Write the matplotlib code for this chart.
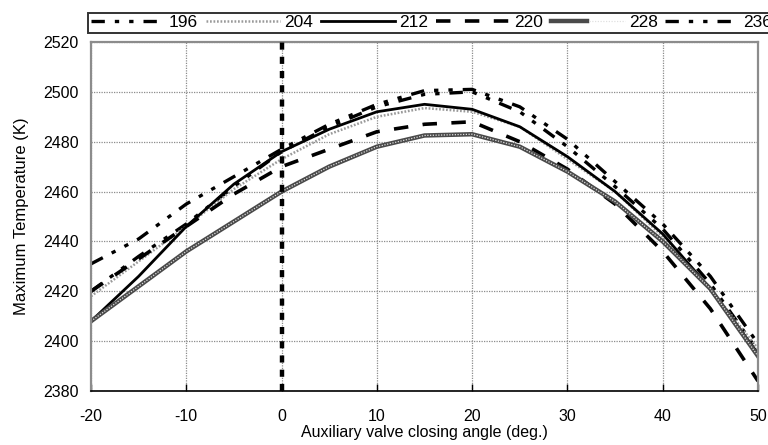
import matplotlib
matplotlib.use("Agg")
import matplotlib.pyplot as plt
from matplotlib.legend_handler import HandlerTuple

plt.rcParams['font.family'] = ['Liberation Sans', 'DejaVu Sans']
plt.rcParams['axes.unicode_minus'] = False

angles = [-20, -15, -10, -5, 0, 5, 10, 15, 20, 25, 30, 35, 40, 45, 50]
t196 = [2420, 2434, 2447, 2462, 2476, 2486, 2494, 2499, 2500, 2492, 2478, 2462, 2445, 2423, 2396]
t204 = [2418, 2432, 2446, 2461, 2473, 2483, 2490, 2493.5, 2492, 2486, 2473, 2460, 2442, 2421, 2397]
t212 = [2408, 2426, 2446, 2463, 2476, 2485, 2492, 2495, 2493, 2486, 2474, 2460, 2443, 2421, 2395]
t220 = [2420, 2433, 2446, 2459, 2470, 2477, 2484, 2487, 2488, 2480, 2469, 2455, 2436, 2413, 2384]
t228 = [2408, 2422, 2436, 2448, 2460, 2470, 2478, 2482.5, 2483, 2478, 2468, 2456, 2440, 2421, 2394]
t236 = [2431, 2441, 2455, 2466, 2477, 2487, 2495, 2500.5, 2501, 2494, 2481, 2464, 2447, 2426, 2399]
labels = ['196', '204', '212', '220', '228', '236']

xticks = [-20, -10, 0, 10, 20, 30, 40, 50]
yticks = [2380, 2400, 2420, 2440, 2460, 2480, 2500, 2520]

narrow = ['Liberation Sans Narrow', 'Liberation Sans', 'DejaVu Sans']

fig = plt.figure(figsize=(7.68, 4.45), dpi=100)
ax = fig.add_axes([91/768, 1-391/445, (758-91)/768, (391-42)/445])

l196, = ax.plot(angles, t196, color='black', lw=2.4, dashes=(4, 3, 1.3, 3, 1.3, 3))
l204, = ax.plot(angles, t204, color='#9a9a9a', lw=1.8, dashes=(0.7, 0.7))
l212, = ax.plot(angles, t212, color='black', lw=2.0)
l220, = ax.plot(angles, t220, color='black', lw=2.6, dashes=(4, 4))
l228a, = ax.plot(angles, t228, color='#4a4a4a', lw=3.2)
l228b, = ax.plot(angles, t228, color='#e0e0e0', lw=0.9, dashes=(1, 1.2))
l236, = ax.plot(angles, t236, color='black', lw=2.4, dashes=(4, 3, 1.3, 3, 1.3, 3))

ax.axvline(0, color='black', lw=3.2, dashes=(1.6, 1.6), zorder=5)

ax.set_xlim(-20, 50)
ax.set_ylim(2380, 2520)
ax.set_xticks(xticks)
ax.set_yticks(yticks)
ax.grid(True, color='#8c8c8c', lw=0.9, linestyle=(0, (1, 1)))
ax.set_axisbelow(True)
ax.tick_params(axis='x', direction='in', length=5, width=1, pad=13)
ax.tick_params(axis='y', length=0, pad=9)
for lab in ax.get_xticklabels() + ax.get_yticklabels():
    lab.set_fontfamily(narrow)
    lab.set_fontsize(11.5)
for s in ['top', 'right', 'left']:
    ax.spines[s].set_color('#8c8c8c')
    ax.spines[s].set_linewidth(1.6)
ax.spines['bottom'].set_color('black')
ax.spines['bottom'].set_linewidth(1.2)

ax.set_xlabel('Auxiliary valve closing angle (deg.)', fontsize=11.5, family=narrow, labelpad=1)
ax.set_ylabel('Maximum Temperature (K)', fontsize=12, family=narrow, labelpad=10)

handles = [l196, l204, l212, l220, (l228a, l228b), l236]
leg = fig.legend(handles, labels, loc='lower left',
                 bbox_to_anchor=(88/768, 1-33/445, (775-88)/768, 25/445),
                 mode='expand', ncol=6, fontsize=12.5, frameon=True,
                 fancybox=False, edgecolor='black', handlelength=4.3,
                 handletextpad=0.2, columnspacing=0.3, borderaxespad=0,
                 borderpad=0.15, handler_map={tuple: HandlerTuple(ndivide=None)})
leg.get_frame().set_linewidth(1.4)

fig.savefig('out.png', dpi=100)
